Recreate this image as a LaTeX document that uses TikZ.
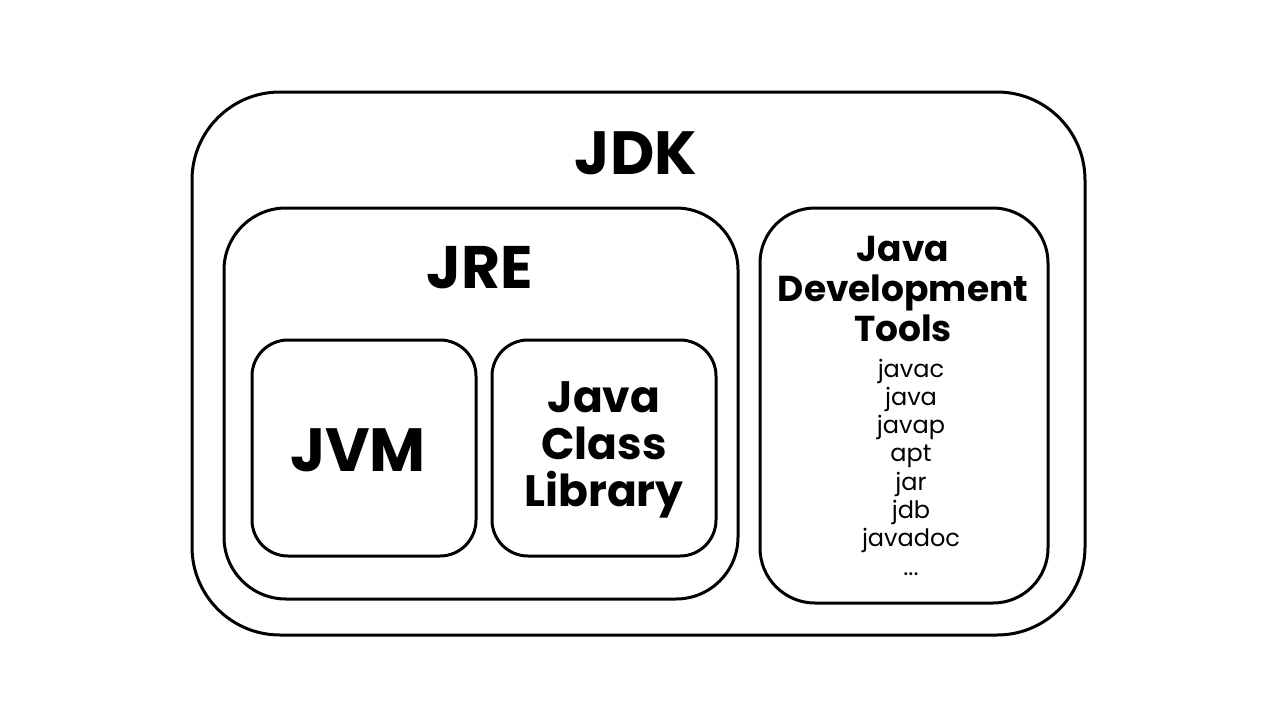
\documentclass[tikz,border=0pt]{standalone}
\usepackage{fontspec}
\setmainfont{Poppins}
\begin{document}
\begin{tikzpicture}[x=1pt,y=-1pt,
  box/.style={draw=black,line width=3pt},
  ttl/.style={font=\bfseries,inner sep=0pt,align=center}]
\useasboundingbox (0,0) rectangle (1280,720);
\fill[white] (0,0) rectangle (1280,720);
\draw[box,rounded corners=88pt] (192,92) rectangle (1085,635);
\draw[box,rounded corners=62pt] (224,208) rectangle (738,599);
\draw[box,rounded corners=36pt] (252,340) rectangle (476,556);
\draw[box,rounded corners=36pt] (492,340) rectangle (716,556);
\draw[box,rounded corners=55pt] (760,208) rectangle (1048,603);
\node[ttl,font=\fontsize{61}{62}\bfseries] (jdk) at (636,153) {JDK};
\node[ttl,font=\fontsize{60}{62}\bfseries] (jre) at (480,268) {JRE};
\node[ttl,font=\fontsize{61}{62}\bfseries] (jvm) at (358,450) {JVM};
\node[ttl,font=\fontsize{44}{47}\selectfont\bfseries] (jcl) at (604,450) {Java\\Class\\Library};
\node[ttl,font=\fontsize{36}{40}\selectfont\bfseries] (jdt) at (903,289) {Java\\Development\\Tools};
\node[inner sep=0pt,align=center,font=\fontsize{24}{28.3}\selectfont] (tools) at (911,467) {javac\\java\\javap\\apt\\jar\\jdb\\javadoc\\...};
\end{tikzpicture}
\end{document}
